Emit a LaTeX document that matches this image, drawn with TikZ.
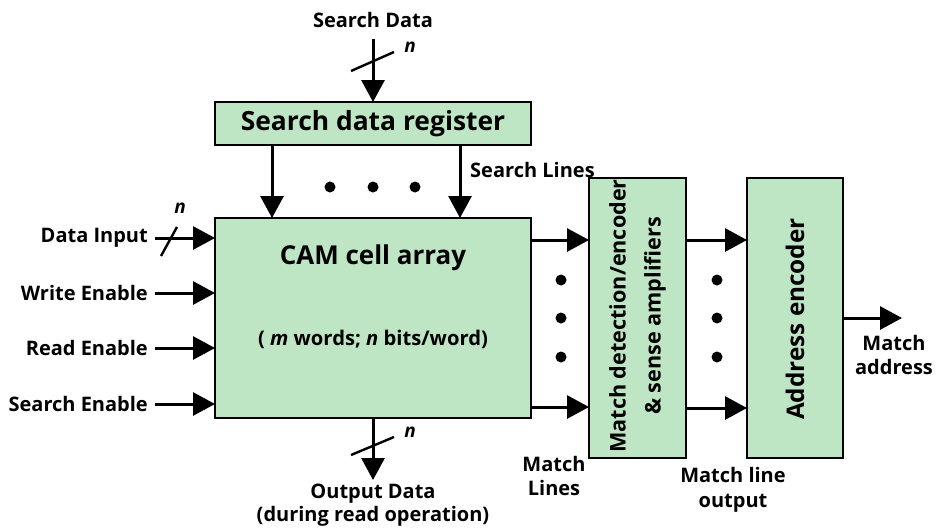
\documentclass[tikz,border=0pt]{standalone}
\usepackage{fontspec}
\setmainfont{Open Sans}
\usetikzlibrary{arrows.meta}
\definecolor{cellgreen}{RGB}{191,230,196}
\tikzset{
  blockbox/.style={draw=black, line width=2pt, fill=cellgreen, inner sep=0pt, outer sep=0pt},
  sig/.style={line width=3pt, -{Triangle[length=22pt,width=23pt]}},
  busmark/.style={line width=2.4pt},
  lbl/.style={font=\fontsize{20}{24.5}\selectfont\bfseries, inner sep=0pt, align=center},
  nlbl/.style={font=\fontsize{19}{21}\selectfont\bfseries\itshape, inner sep=0pt},
  dotmark/.style={fill=black, draw=none, circle, minimum size=11pt, inner sep=0pt},
}
\begin{document}
\begin{tikzpicture}[x=1pt, y=-1pt]
\useasboundingbox (0,0) rectangle (944,528);
\clip (0,0) rectangle (944,528);

% main blocks
\node[blockbox, minimum width=316pt, minimum height=43pt] (sdr) at (373,123.5)
  {\fontsize{26.4}{30}\selectfont\bfseries Search data register};
\node[blockbox, minimum width=316pt, minimum height=200pt] (cam) at (373,318) {};
\node[font=\fontsize{26}{30}\selectfont\bfseries, inner sep=0pt] (camtitle) at (373,258) {CAM cell array};
\node[font=\fontsize{20.2}{24}\selectfont\bfseries, inner sep=0pt] (camsub) at (373,339)
  {( \textit{m} words; \textit{n} bits/word)};
\node[blockbox, minimum width=97pt, minimum height=280pt] (mde) at (637.5,318) {};
\node[rotate=90, align=center, font=\fontsize{21.6}{35}\selectfont\bfseries, inner sep=0pt] (mdetext) at (637.5,316)
  {Match detection/encoder\\\& sense amplifiers};
\node[blockbox, minimum width=96pt, minimum height=280pt] (aenc) at (795,318) {};
\node[rotate=90, font=\fontsize{24.3}{28}\selectfont\bfseries, inner sep=0pt] (aenctext) at (795,319) {Address encoder};

% search data bus
\node[lbl] (sdata) at (373,20) {Search Data};
\coordinate (sdtop) at (373,39);
\draw[sig] (sdtop) -- (sdr.north);
\coordinate (sdsa) at (351,71);
\coordinate (sdsb) at (394,52);
\draw[busmark] (sdsa) -- (sdsb);
\node[nlbl] (sdn) at (410,47) {n};

% search lines
\coordinate (slA) at (272,145);
\coordinate (slAe) at (272,218);
\coordinate (slB) at (460,145);
\coordinate (slBe) at (460,218);
\draw[sig] (slA) -- (slAe);
\draw[sig] (slB) -- (slBe);
\node[dotmark] (sd1) at (330,187) {};
\node[dotmark] (sd2) at (373,187) {};
\node[dotmark] (sd3) at (415,187) {};
\node[lbl, anchor=west] (slines) at (470,170) {Search Lines};

% control inputs
\node[lbl, anchor=east] (din) at (148,238) {Data Input};
\node[lbl, anchor=east] (wen) at (148,293) {Write Enable};
\node[lbl, anchor=east] (ren) at (148,348) {Read Enable};
\node[lbl, anchor=east] (sen) at (148,404) {Search Enable};
\coordinate (dinS) at (155,238);
\coordinate (wenS) at (155,293);
\coordinate (renS) at (155,348);
\coordinate (senS) at (155,404);
\draw[sig] (dinS) -- (cam.west |- dinS);
\draw[sig] (wenS) -- (cam.west |- wenS);
\draw[sig] (renS) -- (cam.west |- renS);
\draw[sig] (senS) -- (cam.west |- senS);
\coordinate (dsa) at (161,256);
\coordinate (dsb) at (177,227);
\draw[busmark] (dsa) -- (dsb);
\node[nlbl] (dn) at (180,208) {n};

% output data bus
\coordinate (odend) at (373,480);
\draw[sig] (cam.south) -- (odend);
\coordinate (osa) at (351,455);
\coordinate (osb) at (394,437);
\draw[busmark] (osa) -- (osb);
\node[nlbl] (on) at (410,432) {n};
\node[lbl, font=\fontsize{20}{22.5}\selectfont\bfseries] (odata) at (373,505) {Output Data\\(during read operation)};

% match lines
\coordinate (ml1) at (531,240);
\coordinate (ml2) at (531,407);
\draw[sig] (ml1) -- (mde.west |- ml1);
\draw[sig] (ml2) -- (mde.west |- ml2);
\node[dotmark] (md1) at (561,280) {};
\node[dotmark] (md2) at (561,318) {};
\node[dotmark] (md3) at (561,357) {};
\node[lbl] (mlines) at (554,476) {Match\\Lines};

% match line outputs
\coordinate (mo1) at (686,240);
\coordinate (mo2) at (686,408);
\draw[sig] (mo1) -- (aenc.west |- mo1);
\draw[sig] (mo2) -- (aenc.west |- mo2);
\node[dotmark] (od1) at (717,280) {};
\node[dotmark] (od2) at (717,318) {};
\node[dotmark] (od3) at (717,357) {};
\node[lbl] (mlo) at (733,490) {Match line\\output};

% match address
\coordinate (maend) at (902,318);
\draw[sig] (aenc.east) -- (maend);
\node[lbl] (maddr) at (894,355) {Match\\address};
\end{tikzpicture}
\end{document}
